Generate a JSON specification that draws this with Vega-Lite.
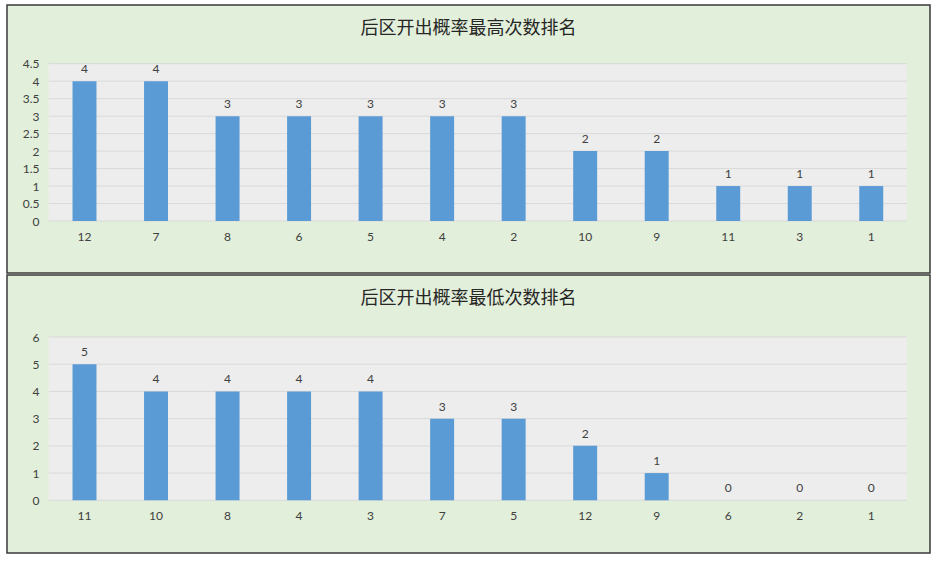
{
  "$schema": "https://vega.github.io/schema/vega-lite/v6.json",
  "description": "后区开出概率最高/最低次数排名",
  "background": "#ffffff",
  "padding": {"left": 6, "top": 4, "right": 0, "bottom": 0},
  "spacing": 0,
  "datasets": {
    "high": [
      {"ball": "12", "count": 4},
      {"ball": "7", "count": 4},
      {"ball": "8", "count": 3},
      {"ball": "6", "count": 3},
      {"ball": "5", "count": 3},
      {"ball": "4", "count": 3},
      {"ball": "2", "count": 3},
      {"ball": "10", "count": 2},
      {"ball": "9", "count": 2},
      {"ball": "11", "count": 1},
      {"ball": "3", "count": 1},
      {"ball": "1", "count": 1}
    ],
    "low": [
      {"ball": "11", "count": 5},
      {"ball": "10", "count": 4},
      {"ball": "8", "count": 4},
      {"ball": "4", "count": 4},
      {"ball": "3", "count": 4},
      {"ball": "7", "count": 3},
      {"ball": "5", "count": 3},
      {"ball": "12", "count": 2},
      {"ball": "9", "count": 1},
      {"ball": "6", "count": 0},
      {"ball": "2", "count": 0},
      {"ball": "1", "count": 0}
    ],
    "gridHigh": [
      {"v": 0}, {"v": 0.5}, {"v": 1}, {"v": 1.5}, {"v": 2},
      {"v": 2.5}, {"v": 3}, {"v": 3.5}, {"v": 4}, {"v": 4.5}
    ],
    "gridLow": [
      {"v": 0}, {"v": 1}, {"v": 2}, {"v": 3}, {"v": 4}, {"v": 5}, {"v": 6}
    ]
  },
  "config": {
    "view": {"fill": "#E2EFDA", "stroke": "#3a3a3a", "strokeWidth": 1.5},
    "font": "Lato",
    "axis": {
      "labelFont": "Lato", "labelFontSize": 12, "labelColor": "#404040",
      "labelOverlap": false, "labelFlush": false,
      "ticks": false, "domain": false, "grid": false, "title": null
    },
    "title": {
      "font": "Noto Sans CJK SC", "fontSize": 18, "fontWeight": "normal",
      "color": "#262626", "anchor": "middle", "baseline": "middle", "offset": -33
    }
  },
  "vconcat": [
    {
      "title": "后区开出概率最高次数排名",
      "width": 923,
      "height": 268,
      "resolve": {"scale": {"x": "independent"}},
      "layer": [
        {
          "data": {"values": [{"a": 0}]},
          "mark": {"type": "rect", "color": "#EDEDED"},
          "encoding": {
            "x": {"datum": 0, "type": "quantitative", "scale": {"domain": [-0.04858, 1.0268], "nice": false, "zero": false}, "axis": null},
            "x2": {"datum": 1},
            "y": {"datum": 0, "type": "quantitative",
              "scale": {"domain": [-1.487, 6.179], "nice": false, "zero": false},
              "axis": {"values": [0, 0.5, 1, 1.5, 2, 2.5, 3, 3.5, 4, 4.5], "tickCount": 20, "format": "~g", "labelPadding": 2, "offset": -34}},
            "y2": {"datum": 4.5}
          }
        },
        {
          "data": {"name": "gridHigh"},
          "mark": {"type": "rule", "color": "#D9D9D9", "strokeWidth": 1},
          "encoding": {
            "x": {"datum": 0, "type": "quantitative", "scale": {"domain": [-0.04858, 1.0268], "nice": false, "zero": false}, "axis": null},
            "x2": {"datum": 1},
            "y": {"field": "v", "type": "quantitative"}
          }
        },
        {
          "data": {"name": "high"},
          "layer": [
            {
              "mark": {"type": "bar", "color": "#5B9BD5", "width": {"band": 0.335}},
              "encoding": {
                "x": {"field": "ball", "type": "nominal", "sort": null,
                  "scale": {"paddingInner": 0, "paddingOuter": 0.4524, "align": 0.645},
                  "axis": {"orient": "bottom", "labelAngle": 0, "labelPadding": 2, "offset": -44}},
                "y": {"field": "count", "type": "quantitative"}
              }
            },
            {
              "mark": {"type": "text", "dy": -12, "fontSize": 12, "color": "#404040", "font": "Lato"},
              "encoding": {
                "x": {"field": "ball", "type": "nominal", "sort": null},
                "y": {"field": "count", "type": "quantitative"},
                "text": {"field": "count", "type": "quantitative"}
              }
            }
          ]
        }
      ]
    },
    {
      "title": "后区开出概率最低次数排名",
      "width": 923,
      "height": 278,
      "resolve": {"scale": {"x": "independent"}},
      "layer": [
        {
          "data": {"values": [{"a": 0}]},
          "mark": {"type": "rect", "color": "#EDEDED"},
          "encoding": {
            "x": {"datum": 0, "type": "quantitative", "scale": {"domain": [-0.04858, 1.0268], "nice": false, "zero": false}, "axis": null},
            "x2": {"datum": 1},
            "y": {"datum": 0, "type": "quantitative",
              "scale": {"domain": [-1.936, 8.278], "nice": false, "zero": false},
              "axis": {"values": [0, 1, 2, 3, 4, 5, 6], "tickCount": 20, "format": "~g", "labelPadding": 2, "offset": -34}},
            "y2": {"datum": 6}
          }
        },
        {
          "data": {"name": "gridLow"},
          "mark": {"type": "rule", "color": "#D9D9D9", "strokeWidth": 1},
          "encoding": {
            "x": {"datum": 0, "type": "quantitative", "scale": {"domain": [-0.04858, 1.0268], "nice": false, "zero": false}, "axis": null},
            "x2": {"datum": 1},
            "y": {"field": "v", "type": "quantitative"}
          }
        },
        {
          "data": {"name": "low"},
          "layer": [
            {
              "mark": {"type": "bar", "color": "#5B9BD5", "width": {"band": 0.335}},
              "encoding": {
                "x": {"field": "ball", "type": "nominal", "sort": null,
                  "scale": {"paddingInner": 0, "paddingOuter": 0.4524, "align": 0.645},
                  "axis": {"orient": "bottom", "labelAngle": 0, "labelPadding": 2, "offset": -45}},
                "y": {"field": "count", "type": "quantitative"}
              }
            },
            {
              "mark": {"type": "text", "dy": -12, "fontSize": 12, "color": "#404040", "font": "Lato"},
              "encoding": {
                "x": {"field": "ball", "type": "nominal", "sort": null},
                "y": {"field": "count", "type": "quantitative"},
                "text": {"field": "count", "type": "quantitative"}
              }
            }
          ]
        }
      ]
    }
  ]
}
